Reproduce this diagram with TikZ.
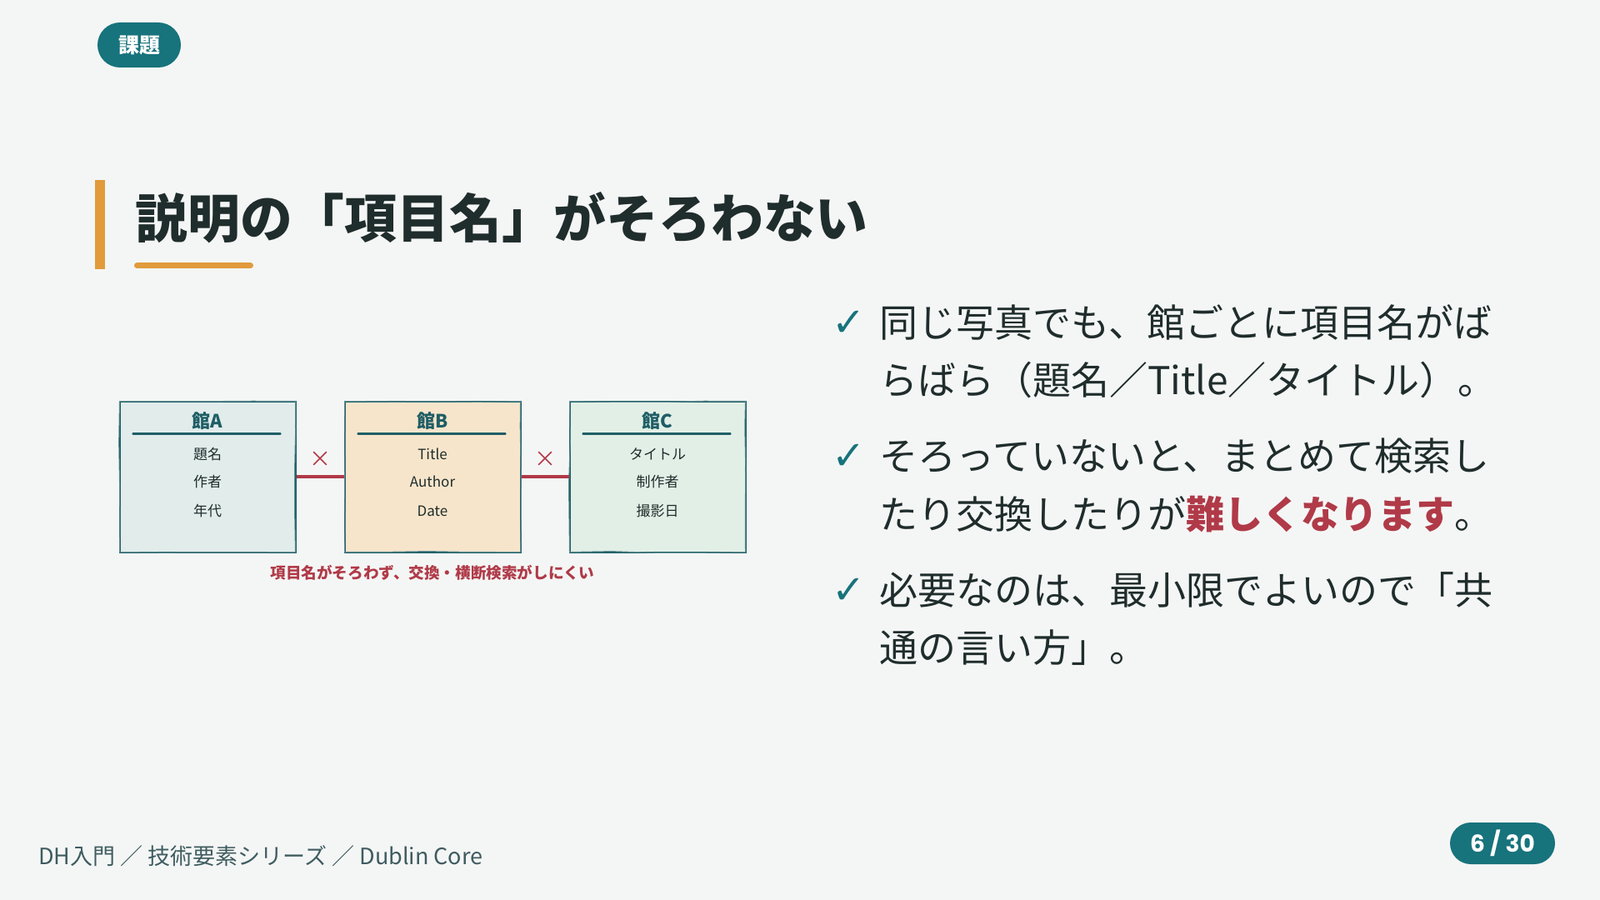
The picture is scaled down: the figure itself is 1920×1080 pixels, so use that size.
\documentclass[tikz,border=0pt]{standalone}
\usepackage{fontspec}
\setmainfont{Noto Sans CJK JP}
\newfontfamily\symfont{DejaVu Sans}
\newfontfamily\numfont{Poppins}
\usetikzlibrary{positioning,calc,shapes.misc,decorations.pathmorphing}

\definecolor{bg}{HTML}{F4F6F5}
\definecolor{tealc}{HTML}{17737C}
\definecolor{ink}{HTML}{1F2D2C}
\definecolor{accent}{HTML}{E19B3B}
\definecolor{alert}{HTML}{B03A48}
\definecolor{boxline}{HTML}{1F5E66}
\definecolor{fillA}{HTML}{E1ECEB}
\definecolor{fillB}{HTML}{F7E5CB}
\definecolor{fillC}{HTML}{E2EFE6}
\definecolor{footc}{HTML}{3F5C60}

\tikzset{pill/.style={rounded rectangle, fill=tealc, text=white, inner sep=0pt}}
\tikzset{museum/.style={draw=boxline, line width=1pt, minimum width=105.5pt, minimum height=90.5pt, inner sep=0pt,
    postaction={draw=boxline!70, line width=0.5pt, decorate,
        decoration={random steps, segment length=25pt, amplitude=0.5pt}}}}
\tikzset{hdr/.style={text=boxline, font=\fontsize{11}{13}\selectfont\bfseries, inner sep=0pt}}
\tikzset{item/.style={text=ink, font=\fontsize{8.5}{10}\selectfont, inner sep=0pt}}
\tikzset{hdrule/.style={draw=boxline, line width=1.2pt, line cap=round}}
\tikzset{nolink/.style={draw=alert, line width=1.7pt}}
\tikzset{xmark/.style={cross out, draw=alert, line width=0.8pt, minimum size=7pt, inner sep=0pt}}
\tikzset{bullet/.style={anchor=base west, inner sep=0pt, text=ink, font=\fontsize{23}{28}\selectfont}}
\tikzset{check/.style={text=tealc, font=\symfont\bfseries\fontsize{24}{26}\selectfont, inner sep=0pt}}

\begin{document}
\begin{tikzpicture}[x=0.5pt, y=-0.5pt]
    \fill[bg] (0,0) rectangle (1920,1080);
    \useasboundingbox (0,0) rectangle (1920,1080);

    % tag
    \node[pill, minimum width=50pt, minimum height=27pt] (tag) at (167,54) {\fontsize{12.5}{14}\selectfont\bfseries 課題};

    % title
    \fill[accent] (114,216) rectangle (126,323);
    \node[anchor=base west, inner sep=0pt, text=ink, font=\fontsize{31.4}{36}\selectfont\bfseries] (title) at (162,286) {説明の「項目名」がそろわない};
    \draw[accent, line width=3.5pt, line cap=round] (164.5,319) -- (300.5,319);

    % three museums
    \node[museum, fill=fillA] (boxA) at (249,572) {};
    \node[museum, fill=fillB] (boxB) at (519,572) {};
    \node[museum, fill=fillC] (boxC) at (789,572) {};

    \node[hdr] (hA) at (249,505) {館A};
    \node[hdr] (hB) at (519,505) {館B};
    \node[hdr] (hC) at (789,505) {館C};

    \draw[hdrule] ($(boxA.north west)+(17,40)$) -- ($(boxA.north east)+(-19,40)$);
    \draw[hdrule] ($(boxB.north west)+(17,40)$) -- ($(boxB.north east)+(-19,40)$);
    \draw[hdrule] ($(boxC.north west)+(17,40)$) -- ($(boxC.north east)+(-19,40)$);

    \node[item] (a1) at (249,545) {題名};
    \node[item] (a2) at (249,578) {作者};
    \node[item] (a3) at (249,613) {年代};

    \node[item] (b1) at (519,545) {Title};
    \node[item] (b2) at (519,578) {Author};
    \node[item] (b3) at (519,613) {Date};

    \node[item] (c1) at (789,545) {タイトル};
    \node[item] (c2) at (789,578) {制作者};
    \node[item] (c3) at (789,613) {撮影日};

    \draw[nolink] (boxA) -- (boxB);
    \draw[nolink] (boxB) -- (boxC);
    \node[xmark] (xAB) at (384,550) {};
    \node[xmark] (xBC) at (654,550) {};

    \node[text=alert, inner sep=0pt, font=\fontsize{9.3}{11}\selectfont\bfseries] (note) at (519,687) {項目名がそろわず、交換・横断検索がしにくい};

    % bullets
    \node[check] (k1) at (1019,388) {✓};
    \node[bullet] (l1) at (1055,404) {同じ写真でも、館ごとに項目名がば};
    \node[bullet] (l2) at (1055,473) {らばら（題名／Title／タイトル）。};

    \node[check] (k2) at (1019,548) {✓};
    \node[bullet] (l3) at (1055,564) {そろっていないと、まとめて検索し};
    \node[bullet] (l4) at (1055,634) {たり交換したりが\textcolor{alert}{\bfseries 難しくなります}。};

    \node[check] (k3) at (1019,709) {✓};
    \node[bullet] (l5) at (1055,725) {必要なのは、最小限でよいので「共};
    \node[bullet] (l6) at (1055,794) {通の言い方」。};

    % footer
    \node[anchor=base west, inner sep=0pt, text=footc, font=\fontsize{13.5}{16}\selectfont] (foot) at (46,1037) {DH入門 ／ 技術要素シリーズ ／ Dublin Core};
    \node[pill, minimum width=63pt, minimum height=25pt] (page) at (1803,1012) {\numfont\bfseries\fontsize{14}{16}\selectfont 6 / 30};
\end{tikzpicture}
\end{document}
